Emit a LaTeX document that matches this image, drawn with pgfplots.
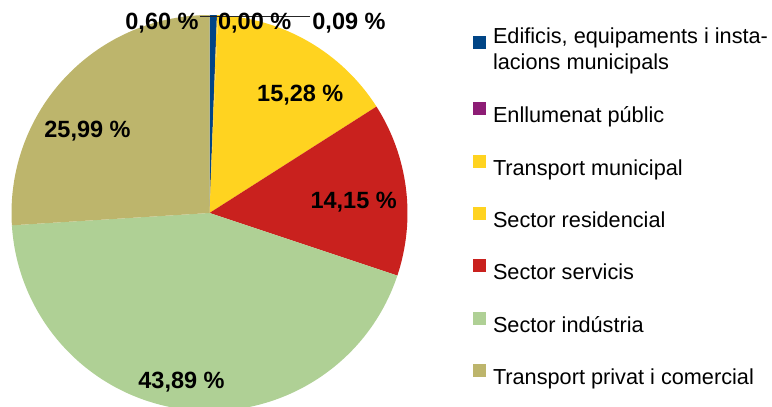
\documentclass[border=0pt]{standalone}
\usepackage{pgfplots}
\pgfplotsset{compat=1.18}
\usepackage{fontspec}
\setmainfont{Liberation Sans}

\definecolor{cEdif}{HTML}{004586}
\definecolor{cEnll}{HTML}{8D1D75}
\definecolor{cTmun}{HTML}{FFD320}
\definecolor{cRes}{HTML}{FFD320}
\definecolor{cServ}{HTML}{C9211E}
\definecolor{cInd}{HTML}{AFD095}
\definecolor{cTpriv}{HTML}{BDB56C}

% shares in percent, clockwise from the top
\def\pEdif{0.60}
\def\pEnll{0.00}
\def\pTmun{0.09}
\def\pRes{15.28}
\def\pServ{14.15}
\def\pInd{43.89}
\def\pTpriv{25.99}

\pgfmathsetmacro\aA{90}
\pgfmathsetmacro\aB{\aA-3.6*\pEdif}
\pgfmathsetmacro\aC{\aB-3.6*\pEnll}
\pgfmathsetmacro\aD{\aC-3.6*\pTmun}
\pgfmathsetmacro\aE{\aD-3.6*\pRes}
\pgfmathsetmacro\aF{\aE-3.6*\pServ}
\pgfmathsetmacro\aG{\aF-3.6*\pInd}
\pgfmathsetmacro\aH{\aG-3.6*\pTpriv}

\newcommand\slice[3]{\fill[#1] (axis cs:209.5,194) -- ([shift={(#2:198bp)}]axis cs:209.5,194)
  arc[start angle=#2, end angle=#3, radius=198bp] -- cycle;}
\newcommand\lab{\fontsize{23.5bp}{28bp}\selectfont\bfseries}

\begin{document}
\begin{tikzpicture}
\begin{axis}[
  x=1bp, y=1bp, xmin=0, xmax=772, ymin=0, ymax=407,
  hide axis,
  legend cell align=left,
  legend image code/.code={\path[draw=none, fill=none] (0bp,-7bp) rectangle (13bp,15bp);
    \fill[#1, draw=none] (0bp,1bp) rectangle (13bp,14bp);},
  legend style={at={(axis cs:473,378.7)}, anchor=north west, draw=none, fill=none,
    inner sep=0pt, outer sep=0pt, row sep=29.1bp, column sep=7bp,
    font=\fontsize{21.7bp}{26bp}\selectfont,
    nodes={inner sep=0pt, outer sep=0pt},
    /tikz/every even column/.append style={text height=15bp, text depth=7bp}},
]
\slice{cEdif}{\aA}{\aB}
\slice{cEnll}{\aB}{\aC}
\slice{cTmun}{\aC}{\aD}
\slice{cRes}{\aD}{\aE}
\slice{cServ}{\aE}{\aF}
\slice{cInd}{\aF}{\aG}
\slice{cTpriv}{\aG}{\aH}

\draw[black!85, line width=0.8bp] (axis cs:200,391) -- (axis cs:310,391);

\node[anchor=base, font=\lab] at (axis cs:162,378) {0,60 \%};
\node[anchor=base, font=\lab] at (axis cs:254.7,378) {0,00 \%};
\node[anchor=base, font=\lab] at (axis cs:349,378) {0,09 \%};
\node[anchor=base, font=\lab] at (axis cs:300.3,305.3) {15,28 \%};
\node[anchor=base, font=\lab] at (axis cs:353.7,198.7) {14,15 \%};
\node[anchor=base, font=\lab] at (axis cs:181.5,19) {43,89 \%};
\node[anchor=base, font=\lab] at (axis cs:87.5,269.7) {25,99 \%};

\addlegendimage{fill=cEdif}
\addlegendentry[text depth=28.8bp]{\begin{tabular}[t]{@{}l@{}}Edificis, equipaments i insta-\\lacions municipals\end{tabular}}
\addlegendimage{fill=cEnll}
\addlegendentry{Enllumenat públic}
\addlegendimage{fill=cTmun}
\addlegendentry{Transport municipal}
\addlegendimage{fill=cRes}
\addlegendentry{Sector residencial}
\addlegendimage{fill=cServ}
\addlegendentry{Sector servicis}
\addlegendimage{fill=cInd}
\addlegendentry{Sector indústria}
\addlegendimage{fill=cTpriv}
\addlegendentry{Transport privat i comercial}
\end{axis}
\pgfresetboundingbox
\useasboundingbox (0,0) rectangle (772bp,407bp);
\end{tikzpicture}
\end{document}
